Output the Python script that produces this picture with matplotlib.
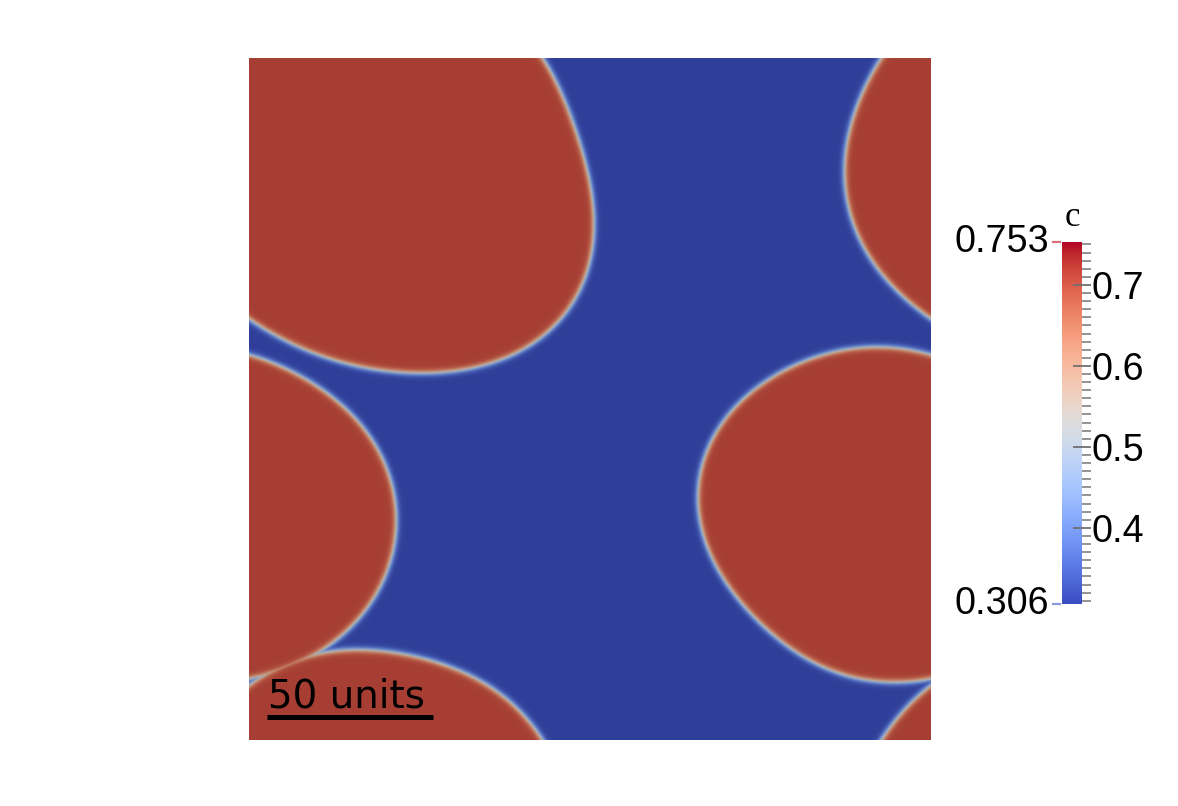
import numpy as np
import matplotlib
matplotlib.use('Agg')
import matplotlib.pyplot as plt
from matplotlib import colors
from matplotlib.cm import ScalarMappable
from matplotlib.ticker import MultipleLocator
from matplotlib.lines import Line2D

# periodic box (simulation units) and scale bar length
box_size = 205.0
scale_len = 50.0

# phase concentrations and the colorbar range
c_matrix = 0.31
c_particle = 0.71
c_min = 0.306
c_max = 0.753
cbar_ticks = [0.4, 0.5, 0.6, 0.7]

# interface points, (x, y) in units, y down from the top,
# unwrapped across the periodic edges
part_a_x = [88.1, 92.6, 96.5, 100.1, 103.1, 104.0, 102.5, 97.4, 90.5, 78.5, 65.5, 51.4, 34.0,
            18.9, 8.7, 0.0, -10.2, -20.7, -25.6, -19.2, -15.3, 0.0, 12.3, 33.1, 57.4, 77.6]
part_a_y = [0.0, 7.5, 17.7, 27.7, 39.7, 48.7, 60.7, 72.7, 81.8, 89.9, 93.5, 94.7, 92.9,
            88.4, 83.9, 79.1, 68.5, 57.7, 30.7, 7.5, 0.0, -16.5, -23.1, -27.7, -22.5, -12.9]
part_b_x = [135.0, 136.5, 144.6, 159.6, 174.6, 194.8, 205.0, 211.9, 223.9, 234.8, 242.9, 246.8,
            249.8, 245.9, 239.0, 230.9, 218.8, 205.0, 199.6, 189.7, 174.6, 159.6, 144.6]
part_b_y = [126.9, 141.9, 159.9, 174.9, 184.0, 187.9, 186.4, 184.9, 180.1, 171.9, 162.0, 151.8,
            136.8, 121.7, 111.8, 101.9, 94.7, 89.3, 87.8, 86.9, 88.4, 94.7, 106.7]

width = 1.0    # tanh interface width
shade = 0.78   # render lighting dims the field colours


def shape_fit(px, py, nharm=5):
    '''fit r(theta) of a closed interface with a short fourier series'''
    px = np.asarray(px)
    py = np.asarray(py)
    cx = 0.5*(px.min()+px.max())
    cy = 0.5*(py.min()+py.max())
    th = np.arctan2(py-cy, px-cx)
    r = np.hypot(px-cx, py-cy)
    cols = [np.ones_like(th)]
    for k in range(1, nharm+1):
        cols += [np.cos(k*th), np.sin(k*th)]
    coef = np.linalg.lstsq(np.array(cols).T, r, rcond=None)[0]

    def rad(t):
        out = coef[0]*np.ones_like(t)
        for k in range(1, nharm+1):
            out = out + coef[2*k-1]*np.cos(k*t) + coef[2*k]*np.sin(k*t)
        return out
    return cx, cy, rad


n = 700
xs = (np.arange(n)+0.5)*box_size/n
X, Y = np.meshgrid(xs, xs)
phi = np.zeros_like(X)
for px, py in [(part_a_x, part_a_y), (part_b_x, part_b_y)]:
    cx, cy, rad = shape_fit(px, py)
    for sx in (-box_size, 0, box_size):
        for sy in (-box_size, 0, box_size):
            dx = X-cx-sx
            dy = Y-cy-sy
            rho = np.hypot(dx, dy)
            t = np.arctan2(dy, dx)
            phi = np.maximum(phi, 0.5*(1+np.tanh((rad(t)-rho)/width)))
field = c_matrix + (c_particle-c_matrix)*phi

base = plt.get_cmap('coolwarm')
shaded = colors.ListedColormap(base(np.linspace(0, 1, 256))[:, :3]*shade)
norm = colors.Normalize(c_min, c_max)

W, H = 1178, 806
fig = plt.figure(figsize=(W/100, H/100), dpi=100)
ax = fig.add_axes([249/W, 1-740/H, 682/W, 682/H])
ax.imshow(field, cmap=shaded, norm=norm, extent=[0, box_size, box_size, 0],
          interpolation='bilinear')
ax.set_xlim(0, box_size)
ax.set_ylim(box_size, 0)
ax.axis('off')

# scale bar
px2u = box_size/682
x0 = (267-249)*px2u
ax.plot([x0, x0+scale_len], [(716.5-58)*px2u]*2, color='black', lw=3.6, solid_capstyle='butt')
ax.text(x0+1.5*px2u, (707-58)*px2u, '50 units', fontsize=28, family='DejaVu Sans',
        va='baseline', ha='left', color='black')

# colorbar
cax = fig.add_axes([1062/W, 1-604/H, 20/W, 362/H])
cb = fig.colorbar(ScalarMappable(norm=norm, cmap=base), cax=cax)
cb.outline.set_visible(False)
cb.set_ticks(cbar_ticks)
cb.set_ticklabels([str(v) for v in cbar_ticks])
cax.yaxis.set_minor_locator(MultipleLocator(0.01))
cax.tick_params(which='major', direction='inout', length=13, width=1.3, color='#707070',
                labelsize=27.2, pad=0)
cax.tick_params(which='minor', direction='out', length=6.5, width=1.2, color='#808080')
for lab in cax.get_yticklabels():
    lab.set_family('Liberation Sans')

# range labels on the left of the bar
for val, col in [(c_max, '#d9707c'), (c_min, '#8a9ce0')]:
    yf = cax.get_position().y0 + (val-c_min)/(c_max-c_min)*cax.get_position().height
    fig.add_artist(Line2D([1053/W, 1060/W], [yf, yf], color=col, lw=1.6))
    fig.text(1049/W, yf, '%.3f' % val, fontsize=27.2, family='Liberation Sans',
             ha='right', va='center')
fig.text(1072/W, 1-217/H, 'c', fontsize=25, family='Liberation Serif', ha='center', va='center')

fig.savefig('out.png', dpi=100)
